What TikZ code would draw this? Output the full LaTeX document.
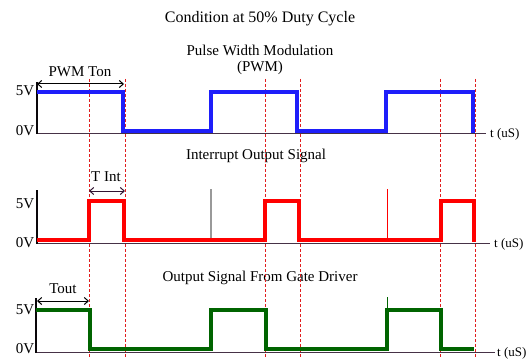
\documentclass[tikz,border=0pt]{standalone}
\usepackage{fontspec}
\setmainfont{Liberation Serif}
\usetikzlibrary{arrows.meta}
\definecolor{wblue}{RGB}{30,30,250}
\definecolor{wred}{RGB}{255,0,0}
\definecolor{wgreen}{RGB}{0,100,0}
\definecolor{axcol}{RGB}{70,50,70}
\definecolor{dimcol}{RGB}{50,20,50}
\definecolor{dashred}{RGB}{225,30,30}
\begin{document}
\begin{tikzpicture}[x=1pt,y=-1pt,
  lbl/.style={inner sep=0pt,font=\fontsize{15}{18}\selectfont},
  ttl/.style={inner sep=0pt,font=\fontsize{16}{19}\selectfont},
  tlbl/.style={inner sep=0pt,font=\fontsize{13}{16}\selectfont},
  wave/.style={line width=4pt,line join=miter},
  haxis/.style={axcol,line width=1.1pt},
  vaxis/.style={black!85!axcol,line width=1.4pt},
  guide/.style={dashred,line width=0.9pt,dash pattern=on 3pt off 2pt},
  dimarrow/.style={line width=1pt,{Straight Barb[length=4pt,width=7pt]}-{Straight Barb[length=4pt,width=7pt]}}]
\useasboundingbox (0,0) rectangle (526,358);
\fill[white] (0,0) rectangle (526,358);

% titles
\node[ttl] (title) at (260,19) {Condition at 50\% Duty Cycle};
\node[lbl] (t1) at (260,50) {Pulse Width Modulation};
\node[lbl] (t1b) at (260,68) {(PWM)};
\node[lbl] (t2) at (256,156) {Interrupt Output Signal};
\node[lbl] (t3) at (260,278) {Output Signal From Gate Driver};

% guide lines
\foreach \gx in {89,125,265,300,440,475}
  \draw[guide] (\gx,79) -- (\gx,358);

% ---------- panel 1 ----------
\draw[haxis] (37,133.5) -- (486,133.5);
\draw[vaxis] (37,82) -- (37,134);
\draw[wave,wblue] (37,92) -- (123,92) -- (123,131) -- (211,131) -- (211,92) -- (297,92) -- (297,131) -- (386,131) -- (386,92) -- (473,92) -- (473,133);
\node[lbl] (v5a) at (25,91) {5V};
\node[lbl] (v0a) at (25,131) {0V};
\node[tlbl,anchor=west] (ta) at (490,134) {t (uS)};
\coordinate (pa1) at (37,84);
\coordinate (pa2) at (124,84);
\draw[dimarrow,black] (pa1) -- (pa2);
\node[lbl] (ton) at (80,72) {PWM Ton};

% ---------- panel 2 ----------
\draw[haxis] (37,243.5) -- (490,243.5);
\draw[vaxis] (37,190) -- (37,244);
\draw[gray!80,line width=1.5pt] (211,189) -- (211,240);
\draw[wred,line width=1pt] (387,189) -- (387,240);
\draw[wave,wred] (37,240) -- (89,240) -- (89,201) -- (124,201) -- (124,240) -- (265,240) -- (265,201) -- (299,201) -- (299,240) -- (441,240) -- (441,201) -- (474,201) -- (474,242);
\node[lbl] (v5b) at (25,204) {5V};
\node[lbl] (v0b) at (25,243) {0V};
\node[tlbl,anchor=west] (tb) at (494,244) {t (uS)};
\coordinate (pb1) at (89,191);
\coordinate (pb2) at (125,191);
\draw[dimarrow,dimcol] (pb1) -- (pb2);
\node[lbl] (tint) at (106,177) {T Int};

% ---------- panel 3 ----------
\draw[haxis] (36,352.5) -- (495,352.5);
\draw[vaxis] (36,298) -- (36,353);
\draw[wgreen,line width=1pt] (387,297) -- (387,310);
\draw[wave,wgreen] (36,310) -- (90,310) -- (90,349) -- (211,349) -- (211,310) -- (266,310) -- (266,349) -- (387,349) -- (387,310) -- (441,310) -- (441,349) -- (474,349);
\node[lbl] (v5c) at (25,310) {5V};
\node[lbl] (v0c) at (25,349) {0V};
\node[tlbl,anchor=west] (tc) at (497,353) {t (uS)};
\coordinate (pc1) at (37,301);
\coordinate (pc2) at (89,301);
\draw[dimarrow,black] (pc1) -- (pc2);
\node[lbl] (tout) at (63,289) {Tout};
\end{tikzpicture}
\end{document}
